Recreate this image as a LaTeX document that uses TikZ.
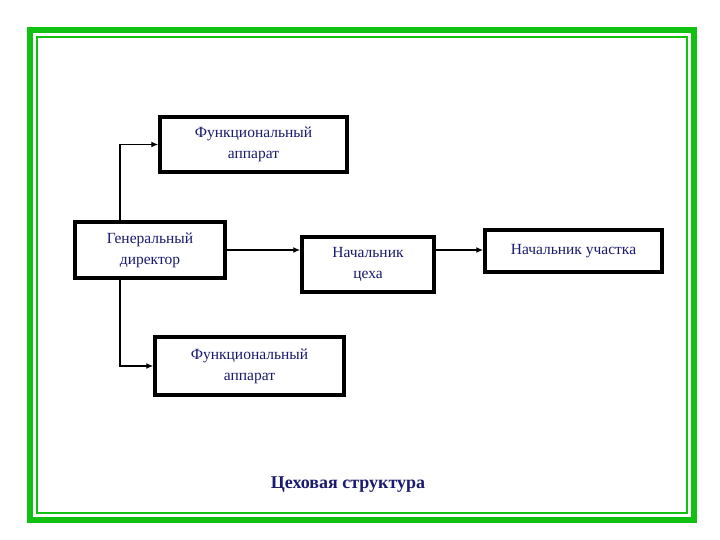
\documentclass[tikz,border=0pt]{standalone}
\usepackage{fontspec}
\setmainfont{Liberation Serif}
\usetikzlibrary{arrows.meta}
\begin{document}
\begin{tikzpicture}[x=1pt,y=-1pt,
  boxa/.style={draw=black,line width=3.5pt,fill=white,text=textblue,font=\fontsize{15.5}{21}\selectfont,align=center,inner sep=0pt},
  conn/.style={draw=black,line width=1.5pt,-{Latex[length=7pt,width=6pt]}}]
\definecolor{textblue}{HTML}{1A1A6E}
\definecolor{frgreen}{HTML}{11C011}
\useasboundingbox (0,0) rectangle (720,540);
\fill[white] (0,0) rectangle (720,540);
\draw[frgreen,line width=6pt] (30,30) rectangle (694,520);
\draw[frgreen,line width=1.5pt] (37,37) rectangle (687,513);
\node[boxa,minimum width=187,minimum height=55] (f1) at (253.5,144.5) {Функциональный\\аппарат};
\node[boxa,minimum width=150,minimum height=56] (gd) at (150,250) {Генеральный\\директор};
\node[boxa,minimum width=132,minimum height=55] (nc) at (368,264.5) {Начальник\\цеха};
\node[boxa,minimum width=177,minimum height=42] (nu) at (573.5,251) {Начальник участка};
\node[boxa,minimum width=189,minimum height=58] (f2) at (249.5,366) {Функциональный\\аппарат};
\node[text=textblue,font=\fontsize{18}{20}\selectfont\bfseries] (t) at (348,485) {Цеховая структура};
\draw[conn] (gd.north -| 120,0) |- (f1.west);
\draw[conn] (gd.south -| 120,0) |- (f2.west);
\draw[conn] (gd.east |- 0,250) -- (nc.west |- 0,250);
\draw[conn] (nc.east |- 0,250) -- (nu.west |- 0,250);
\end{tikzpicture}
\end{document}
